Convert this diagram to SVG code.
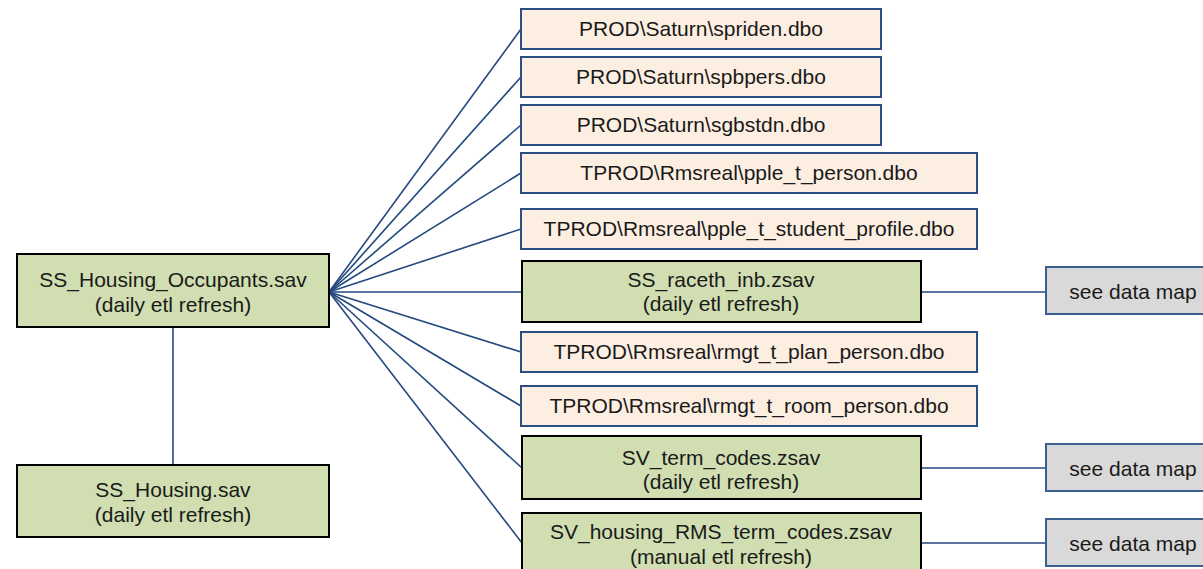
<svg xmlns="http://www.w3.org/2000/svg" width="1203" height="569" viewBox="0 0 1203 569">
<style>
text{font-family:"Liberation Sans",Arial,sans-serif;font-size:21px;fill:#1a1a1a;text-anchor:middle}
.g{fill:#D0DEB1;stroke:#000;stroke-width:2}
.p{fill:#FDEEE2;stroke:#284E82;stroke-width:2}
.d{fill:#D9D9D9;stroke:#3A5F8F;stroke-width:2}
.c line{stroke:#23497E;stroke-width:1.6;fill:none}
</style>
<rect width="1203" height="569" fill="#fff"/>
<g class="c" id="connectors">
<line x1="173" y1="328" x2="173" y2="465" stroke-width="2.2"/>
<line x1="329" y1="292" x2="521" y2="29"/>
<line x1="329" y1="292" x2="521" y2="77"/>
<line x1="329" y1="292" x2="521" y2="125"/>
<line x1="329" y1="292" x2="521" y2="173"/>
<line x1="329" y1="292" x2="521" y2="229"/>
<line x1="329" y1="292" x2="522" y2="292"/>
<line x1="329" y1="292" x2="521" y2="352"/>
<line x1="329" y1="292" x2="521" y2="406"/>
<line x1="329" y1="292" x2="522" y2="468"/>
<line x1="329" y1="292" x2="522" y2="543"/>
<line x1="921" y1="292" x2="1046" y2="292"/>
<line x1="921" y1="468" x2="1046" y2="468"/>
<line x1="921" y1="543" x2="1046" y2="543"/>
</g>
<g id="n_occupants"><rect class="g" x="17" y="254" width="312" height="73"/><text x="173" y="287">SS_Housing_Occupants.sav</text><text x="173" y="312">(daily etl refresh)</text></g>
<g id="n_housing"><rect class="g" x="17" y="465" width="312" height="72"/><text x="173" y="497">SS_Housing.sav</text><text x="173" y="522">(daily etl refresh)</text></g>
<g id="n_spriden"><rect class="p" x="521" y="9" width="360" height="40"/><text x="701" y="36">PROD\Saturn\spriden.dbo</text></g>
<g id="n_spbpers"><rect class="p" x="521" y="57" width="360" height="40"/><text x="701" y="84">PROD\Saturn\spbpers.dbo</text></g>
<g id="n_sgbstdn"><rect class="p" x="521" y="105" width="360" height="40"/><text x="701" y="132">PROD\Saturn\sgbstdn.dbo</text></g>
<g id="n_pple_person"><rect class="p" x="521" y="153" width="456" height="40"/><text x="749" y="180">TPROD\Rmsreal\pple_t_person.dbo</text></g>
<g id="n_pple_student"><rect class="p" x="521" y="209" width="456" height="40"/><text x="749" y="236">TPROD\Rmsreal\pple_t_student_profile.dbo</text></g>
<g id="n_raceth"><rect class="g" x="522" y="261" width="399" height="61"/><text x="721" y="287">SS_raceth_inb.zsav</text><text x="721" y="311">(daily etl refresh)</text></g>
<g id="n_plan_person"><rect class="p" x="521" y="332" width="456" height="40"/><text x="749" y="359">TPROD\Rmsreal\rmgt_t_plan_person.dbo</text></g>
<g id="n_room_person"><rect class="p" x="521" y="386" width="456" height="40"/><text x="749" y="413">TPROD\Rmsreal\rmgt_t_room_person.dbo</text></g>
<g id="n_term_codes"><rect class="g" x="522" y="436" width="399" height="63"/><text x="721" y="465">SV_term_codes.zsav</text><text x="721" y="489">(daily etl refresh)</text></g>
<g id="n_rms_term_codes"><rect class="g" x="522" y="513" width="399" height="64"/><text x="721" y="539">SV_housing_RMS_term_codes.zsav</text><text x="721" y="564">(manual etl refresh)</text></g>
<g id="n_map1"><rect class="d" x="1046" y="267" width="170" height="47"/><text x="1133" y="299">see data map</text></g>
<g id="n_map2"><rect class="d" x="1046" y="444" width="170" height="47"/><text x="1133" y="476">see data map</text></g>
<g id="n_map3"><rect class="d" x="1046" y="519" width="170" height="47"/><text x="1133" y="551">see data map</text></g>
</svg>
